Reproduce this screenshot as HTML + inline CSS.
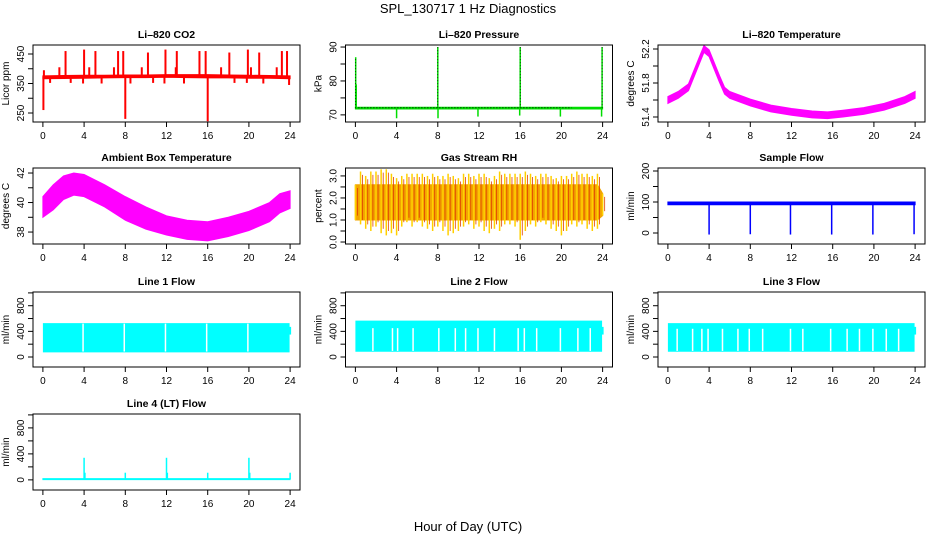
<!DOCTYPE html>
<html><head><meta charset="utf-8"><style>
html,body{margin:0;padding:0;background:#fff}
svg{display:block;font-family:"Liberation Sans",Arial,sans-serif}
</style></head><body>
<svg id="chart" width="936" height="540" viewBox="0 0 936 540">
<text x="468" y="13" text-anchor="middle" font-size="13">SPL_130717  1 Hz Diagnostics</text>
<text x="468" y="531" text-anchor="middle" font-size="13">Hour of Day (UTC)</text>
</svg>
<script>
// ---------- data ----------
const xTicks = [0,4,8,12,16,20,24];
// CO2
const co2Hours = [0,2,4,6,8,10,12,14,16,18,20,22,24];
const co2Low  = [366,367,368,369,370,370,371,370,369,369,368,368,366];
const co2High = [376,377,378,378,379,379,380,380,380,379,378,377,376];
const co2SpikeHours = [0.05,0.1,2.2,4.0,5.1,7.3,7.8,10.2,11.9,13.0,15.2,15.8,18.1,19.9,21.0,23.2,23.7,1.6,4.5,6.9,9.6,12.9,17.3,20.2,22.7,0.7,2.7,3.9,5.7,8.0,8.5,10.7,11.8,13.7,16.0,18.6,19.8,21.4,23.9];
const co2SpikeVals  = [260,395,460,465,460,460,460,455,465,460,460,460,455,465,455,460,460,405,405,405,405,405,405,405,405,352,352,350,350,230,350,352,350,350,222,352,352,350,345];
// Pressure
const presHours = [0,24];
const presBase = [72,72];
const presSpikeHours = [0.03,0.08,8.0,16.0,23.95,4.0,8.02,11.9,15.95,19.9,23.9];
const presSpikeVals  = [87,79,90,90,90,69,69,69.5,69.8,69.5,69.5];
// Li-820 temperature
const tempHours = [0,1,2,3,3.5,4,5,5.5,6,8,10,12,14,15.5,17,19,21,23,24];
const tempVals  = [51.6,51.66,51.75,52.05,52.2,52.15,51.85,51.71,51.66,51.57,51.5,51.46,51.43,51.42,51.44,51.47,51.52,51.6,51.66];
// Ambient box temperature
const ambHours = [0,1,2,3,4,6,8,10,12,14,16,18,20,22,23,24];
const ambLow   = [39.0,39.5,40.2,40.5,40.4,39.7,38.8,38.2,37.8,37.5,37.4,37.7,38.1,38.7,39.3,39.6];
const ambHigh  = [40.4,41.2,41.8,42.0,41.9,41.2,40.4,39.7,39.1,38.8,38.7,39.0,39.4,40.0,40.6,40.8];
// Gas stream RH
const rhHours = [0,0.5,1,1.5,2,2.5,3,3.5,4,4.5,5,5.5,6,6.5,7,7.5,8,8.5,9,9.5,10,10.5,11,11.5,12,12.5,13,13.5,14,14.5,15,15.5,16,16.5,17,17.5,18,18.5,19,19.5,20,20.5,21,21.5,22,22.5,23,23.5,24];
const rhLow  = [1.0,0.8,0.6,0.5,0.7,0.4,0.3,0.4,0.3,0.7,0.9,0.7,0.9,0.7,0.6,0.5,0.7,0.5,0.3,0.4,0.5,0.7,0.8,0.6,0.7,0.5,0.4,0.6,0.5,0.8,0.8,0.7,0.1,0.5,0.8,0.7,0.9,0.8,0.6,0.5,0.3,0.5,0.8,0.7,0.8,0.6,0.5,0.6,1.2];
const rhHigh = [2.6,3.2,3.0,3.2,3.2,3.3,3.3,3.1,2.9,3.0,3.1,3.1,3.1,3.1,3.0,3.1,3.0,3.0,3.1,3.0,2.9,3.1,3.1,3.0,3.1,3.1,2.9,3.0,3.2,3.1,3.1,3.1,3.1,3.2,3.1,3.0,3.1,3.1,3.0,2.9,3.0,3.0,3.1,3.2,3.1,3.1,3.0,3.1,2.2];
// Sample flow
const sfHours = [0,24];
const sfLow = [91,91];
const sfHigh = [100,100];
const sfDropHours = [4.0,8.0,11.9,15.9,19.9,23.9];
const sfDropVals  = [-5,-4,-5,-5,-5,-4];
// Lines 1-3
const l1Low = 80, l1High = 520;
const l1Gaps = [3.9,7.9,11.9,15.9,19.9];
const l2Low = 90, l2High = 560;
const l2Gaps = [1.7,3.6,4.1,5.6,8.1,9.7,10.7,11.9,13.5,15.8,16.4,17.6,19.9,21.6,22.8];
const l3Low = 90, l3High = 520;
const l3Gaps = [0.9,2.4,3.3,3.9,5.3,6.8,7.9,9.2,11.9,13.1,15.8,17.4,18.6,19.9,21.2,22.4];
// Line 4
const l4Base = 12;
const l4SpikeHours = [4.0,4.08,8.0,12.0,12.08,16.0,20.0,20.08,24.0];
const l4SpikeVals  = [340,110,110,340,110,110,340,110,110];

// ---------- helpers ----------
const NS = 'http://www.w3.org/2000/svg';
const svg = document.getElementById('chart');
function mk(tag, attrs, parent){const e=document.createElementNS(NS,tag);for(const k in attrs)e.setAttribute(k,attrs[k]);(parent||svg).appendChild(e);return e;}

function panel(name, col, row, title, ylab, ymin, ymax, yTicks, yLabels){
  const tops=[45,168,292,414], bots=[122,244,367,490];
  const left = 33 + 312.5*col, right = left + 267;
  const top = tops[row], bot = bots[row];
  const g = mk('g',{});
  
  
  const xs = h => left + (h + 0.96) / 25.92 * (right-left);
  const ys = v => bot - (v - ymin) / (ymax - ymin) * (bot-top);
  const clip = mk('clipPath',{id:'c-'+name}, g);
  mk('rect',{x:left,y:top,width:right-left,height:bot-top},clip);
  const plot = mk('g',{'clip-path':'url(#c-'+name+')'}, g);
  
  
  const t = mk('text',{x:(left+right)/2,y:top-7,'text-anchor':'middle','font-size':'10.5','font-weight':'bold'},g);
  t.textContent = title;
  
  
  const box = mk('rect',{x:left,y:top,width:right-left,height:bot-top,fill:'none',stroke:'#000','stroke-width':1},g);
  
  
  const xa = mk('g',{},g);
  
  
  mk('line',{x1:xs(0),x2:xs(24),y1:bot,y2:bot,stroke:'#000'},xa);
  xTicks.forEach(h=>{
    mk('line',{x1:xs(h),x2:xs(h),y1:bot,y2:bot+5,stroke:'#000'},xa);
    const tl = mk('text',{x:xs(h),y:bot+17,'text-anchor':'middle','font-size':'10'},xa);
    tl.textContent = h;
    
    
  });
  const ya = mk('g',{},g);
  
  
  mk('line',{x1:left,x2:left,y1:ys(yTicks[0]),y2:ys(yTicks[yTicks.length-1]),stroke:'#000'},ya);
  yTicks.forEach(v=>mk('line',{x1:left-5,x2:left,y1:ys(v),y2:ys(v),stroke:'#000'},ya));
  yLabels.forEach(v=>{
    const x=left-9, y=ys(v);
    const tl = mk('text',{x:x,y:y,'text-anchor':'middle','font-size':'10',transform:`rotate(-90 ${x} ${y})`},ya);
    tl.textContent = v;
    
    
  });
  const yl = mk('text',{x:left-24,y:(top+bot)/2,'text-anchor':'middle','font-size':'10',transform:`rotate(-90 ${left-24} ${(top+bot)/2})`},g);
  yl.textContent = ylab;
  
  
  return {xs, ys, plot};
}
function band(p, hours, lo, hi, color, name){
  let d='M'+hours.map((h,i)=>p.xs(h)+','+p.ys(hi[i])).join(' L');
  d+=' L'+hours.slice().reverse().map((h,i)=>p.xs(h)+','+p.ys(lo[hours.length-1-i])).join(' L')+' Z';
  const e = mk('path',{d:d,fill:color,stroke:color,'stroke-width':1},p.plot);
  
  
  return e;
}
function vline(p, h, v0, v1, color, w, name){
  const e = mk('line',{x1:p.xs(h),x2:p.xs(h),y1:p.ys(v0),y2:p.ys(v1),stroke:color,'stroke-width':w},p.plot);
  
  
}

// CO2
let p = panel('co2',0,0,'Li\u2013820 CO2','Licor ppm',219.5,480.5,[250,300,350,400,450],[250,350,450]);
band(p, co2Hours, co2Low, co2High, '#ff0000', 'co2-series');
co2SpikeHours.forEach((h,i)=>vline(p,h,373,co2SpikeVals[i],'#ff0000',2,'co2-spike'));

// Pressure
p = panel('pressure',1,0,'Li\u2013820 Pressure','kPa',67.9,90.6,[70,75,80,85,90],[70,80,90]);
band(p, presHours, presBase.map(v=>v-0.25), presBase.map(v=>v+0.25), '#00dd00', 'pressure-series');
mk('line',{x1:p.xs(0),x2:p.xs(21),y1:p.ys(72.1),y2:p.ys(72.1),stroke:'#000','stroke-width':1,'stroke-dasharray':'1 2'},p.plot);
presSpikeHours.forEach((h,i)=>vline(p,h,72,presSpikeVals[i],'#00dd00',1.5,'pressure-spike'));
[0.03,8.0,16.0,23.95].forEach((h,i)=>mk('line',{x1:p.xs(h),x2:p.xs(h),y1:p.ys(72),y2:p.ys(presSpikeVals[[0,2,3,4][i]]),stroke:'#000','stroke-width':0.7,'stroke-dasharray':'1 2'},p.plot));

// Li-820 temperature
p = panel('li820-temp',2,0,'Li\u2013820 Temperature','degrees C',51.341,52.247,[51.4,51.6,51.8,52.0,52.2],['51.4','51.8','52.2']);
band(p, tempHours, tempVals.map(v=>v-0.04), tempVals.map(v=>v+0.04), '#ff00ff', 'temperature-series');

// Ambient
p = panel('ambient-temp',0,1,'Ambient Box Temperature','degrees C',37.19,42.34,[38,39,40,41,42],[38,40,42]);
band(p, ambHours, ambLow, ambHigh, '#ff00ff', 'ambient-series');

// RH
p = panel('rh',1,1,'Gas Stream RH','percent',-0.09,3.36,[0,0.5,1,1.5,2,2.5,3],['0.0','1.0','2.0','3.0']);
band(p, rhHours, rhLow.map(v=>Math.max(v,1.0)), rhHigh.map(v=>Math.min(v,2.6)), '#f2a400', 'rh-core');
rhHours.forEach((h,i)=>{
  vline(p,h,rhLow[i],rhHigh[i],'#ffd000',1.5,'rh-spike');
  vline(p,h+0.2,rhLow[i]+0.2,rhHigh[i]-0.15,'#e04000',0.8,'rh-spike');
});

// Sample flow
p = panel('sample-flow',2,1,'Sample Flow','ml/min',-35.5,209.7,[0,50,100,150,200],[0,100,200]);
band(p, sfHours, sfLow, sfHigh, '#0000ff', 'sample-flow-series');
sfDropHours.forEach((h,i)=>vline(p,h,94,sfDropVals[i],'#0000ff',1.5,'sample-flow-drop'));

// Lines 1-3
const lt=[0,200,400,600,800,1000], ll=[0,400,800];
[['line1',0,2,'Line 1 Flow',l1Low,l1High,l1Gaps,0],['line2',1,2,'Line 2 Flow',l2Low,l2High,l2Gaps,110],['line3',2,2,'Line 3 Flow',l3Low,l3High,l3Gaps,80]].forEach(a=>{
  const q = panel(a[0],a[1],a[2],a[3],'ml/min',-156,1014,lt,ll);
  band(q,[0.05,23.9],[a[4],a[4]],[a[5],a[5]],'#00ffff',a[0]+'-series');
  vline(q,24,350,470,'#00ffff',2,a[0]+'-tail');
  a[6].forEach(h=>vline(q,h,a[4]+5,a[5]-a[7],'#ffffff',1.5,a[0]+'-gap'));
});

// Line 4
p = panel('line4',0,3,'Line 4 (LT) Flow','ml/min',-156,1014,lt,ll);
band(p,[0,24],[l4Base-8,l4Base-8],[l4Base+8,l4Base+8],'#00ffff','line4-series');
l4SpikeHours.forEach((h,i)=>vline(p,h,l4Base,l4SpikeVals[i],'#00ffff',1.5,'line4-spike'));
</script>
</body></html>
